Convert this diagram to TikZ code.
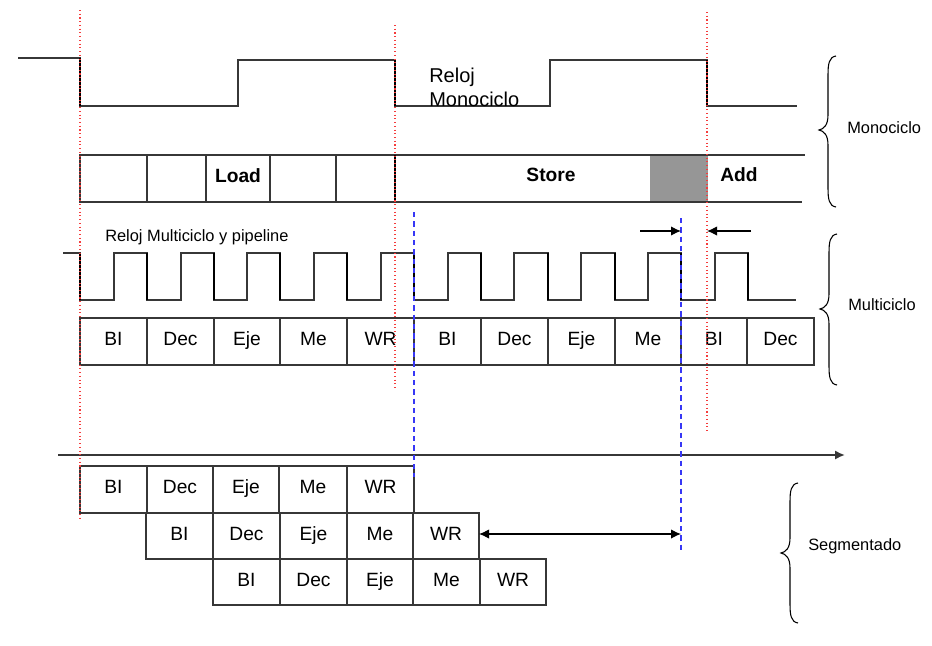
\documentclass[tikz,border=0pt]{standalone}
\usepackage{fontspec}
\setmainfont{Liberation Sans}
\usetikzlibrary{arrows.meta}
\definecolor{linec}{RGB}{55,55,55}
\definecolor{grayfill}{RGB}{150,150,150}
\definecolor{guidered}{RGB}{245,60,60}
\definecolor{guideblue}{RGB}{55,55,245}
\newcommand\cb[6]{\node[cell, minimum width={(#3-#2)*0.75pt}, minimum height={(#5-#4)*0.75pt}] (#1) at ({(#2+#3)/2},{(#4+#5)/2}) {#6};}
\newcommand\mybrace[4]{%
 \draw[brc] (#1,#2) .. controls ({#1-7},{#2+1}) and ({#1-8},{#2+8}) .. ({#1-8},{#2+19}) -- ({#1-8},{#3-15}) .. controls ({#1-8},{#3-5}) and ({#1-12},{#3-1}) .. ({#1-17},#3) .. controls ({#1-12},{#3+1}) and ({#1-8},{#3+5}) .. ({#1-8},{#3+15}) -- ({#1-8},{#4-19}) .. controls ({#1-8},{#4-8}) and ({#1-7},{#4-1}) .. (#1,#4);}
\begin{document}
\begin{tikzpicture}[x=0.75pt,y=-0.75pt,
  cell/.style={draw=linec, line width=0.9pt, inner sep=0pt, outer sep=0pt, font=\fontsize{14.4}{16}\selectfont, text height=10.5pt, text depth=4pt},
  lab/.style={inner sep=0pt, font=\fontsize{14.4}{16}\selectfont},
  side/.style={inner sep=0pt, anchor=west, font=\fontsize{12.3}{14}\selectfont},
  clk/.style={draw=linec, line width=1pt},
  fedge/.style={draw=black, line width=1.5pt},
  bline/.style={draw=linec, line width=1pt},
  brc/.style={draw=black, line width=0.8pt},
  rguide/.style={draw=guidered, line width=0.8pt, dotted},
  bguide/.style={draw=guideblue, line width=1pt, dash pattern=on 4pt off 3pt},
  arr/.style={draw=black, line width=0.8pt, -{Latex[length=7.5pt,width=7pt]}},
  arr2/.style={draw=black, line width=0.8pt, {Latex[length=7.5pt,width=7pt]}-{Latex[length=7.5pt,width=7pt]}},
  axis/.style={draw=linec, line width=1.6pt, -{Latex[length=7.5pt,width=7pt]}}]
\useasboundingbox (0,0) rectangle (932,646);

% ---------- Monocycle clock ----------
\draw[clk] (18,58) -- (80,58) -- (80,106) -- (238,106) -- (238,60) -- (395,60) -- (395,106) -- (550,106) -- (550,60) -- (707,60) -- (707,106) -- (797,106);
\draw[fedge] (80,58) -- (80,106);
\draw[fedge] (395,60) -- (395,106);
\draw[fedge] (707,60) -- (707,106);
\node[lab, anchor=base west, font=\fontsize{15}{18}\selectfont] (rm1) at (429,82) {Reloj};
\node[lab, anchor=base west, font=\fontsize{15}{18}\selectfont] (rm2) at (429,106) {Monociclo};

% ---------- Monocycle instruction row ----------
\fill[grayfill] (650,155) rectangle (708,202);
\cb{m1}{80}{147}{155}{202}{}
\cb{m2}{147}{206}{155}{202}{}
\cb{m3}{206}{270}{155}{202}{\bfseries Load}
\cb{m4}{270}{336}{155}{202}{}
\cb{m5}{336}{395}{155}{202}{}
\coordinate (mt1) at (805,155);
\coordinate (mb1) at (802,202);
\draw[bline] (m5.north east) -- (mt1);
\draw[bline] (m5.south east) -- (mb1);
\draw[fedge] (m5.north east) -- (m5.south east);
\node[lab, font=\fontsize{14.4}{16}\bfseries] (store) at (551,175) {Store};
\node[lab, font=\fontsize{14.4}{16}\bfseries] (add) at (739,175) {Add};

\mybrace{836}{56}{130}{207}
\node[side] (lmono) at (847,128) {Monociclo};

% ---------- Multicycle clock ----------
\node[side] (lmc) at (105,237) {Reloj Multiciclo y pipeline};
\draw[clk] (63,253) -- (80,253) -- (80,300) -- (114,300) -- (114,253) -- (147,253) -- (147,300) -- (181,300) -- (181,253) -- (214,253) -- (214,300) -- (247,300) -- (247,253) -- (280,253) -- (280,300) -- (314,300) -- (314,253) -- (347,253) -- (347,300) -- (381,300) -- (381,253) -- (414,253) -- (414,300) -- (448,300) -- (448,253) -- (481,253) -- (481,300) -- (514,300) -- (514,253) -- (548,253) -- (548,300) -- (581,300) -- (581,253) -- (615,253) -- (615,300) -- (648,300) -- (648,253) -- (681,253) -- (681,300) -- (715,300) -- (715,253) -- (748,253) -- (748,300) -- (796,300);
\foreach \fx in {80,147,214,280,347,414,481,548,615,681,748}
  \draw[draw=black, line width=1.3pt] (\fx,253) -- (\fx,300);

% ---------- Multicycle row ----------
\cb{c1}{80}{147}{318}{365}{BI}
\cb{c2}{147}{214}{318}{365}{Dec}
\cb{c3}{214}{280}{318}{365}{Eje}
\cb{c4}{280}{347}{318}{365}{Me}
\cb{c5}{347}{414}{318}{365}{WR}
\cb{c6}{414}{481}{318}{365}{BI}
\cb{c7}{481}{548}{318}{365}{Dec}
\cb{c8}{548}{615}{318}{365}{Eje}
\cb{c9}{615}{681}{318}{365}{Me}
\cb{c10}{681}{747}{318}{365}{BI}
\cb{c11}{747}{814}{318}{365}{Dec}

\mybrace{837}{234}{309}{385}
\node[side] (lmulti) at (848,305) {Multiciclo};

% ---------- Time axis ----------
\coordinate (t0) at (58,455);
\coordinate (t1) at (845,455);
\draw[axis] (t0) -- (t1);

% ---------- Pipelined ----------
\cb{s11}{80}{147}{466}{513}{BI}
\cb{s12}{147}{213}{466}{513}{Dec}
\cb{s13}{213}{279}{466}{513}{Eje}
\cb{s14}{279}{347}{466}{513}{Me}
\cb{s15}{347}{414}{466}{513}{WR}
\cb{s21}{146}{213}{513}{559}{BI}
\cb{s22}{213}{280}{513}{559}{Dec}
\cb{s23}{280}{347}{513}{559}{Eje}
\cb{s24}{347}{413}{513}{559}{Me}
\cb{s25}{413}{479}{513}{559}{WR}
\cb{s31}{213}{280}{559}{605}{BI}
\cb{s32}{280}{347}{559}{605}{Dec}
\cb{s33}{347}{413}{559}{605}{Eje}
\cb{s34}{413}{480}{559}{605}{Me}
\cb{s35}{480}{546}{559}{605}{WR}

\mybrace{798}{483}{553}{623}
\node[side] (lseg) at (808,546) {Segmentado};

% ---------- Guides ----------
\coordinate (r1a) at (80,10);  \coordinate (r1b) at (80,519);
\coordinate (r2a) at (395,25); \coordinate (r2b) at (395,388);
\coordinate (r3a) at (707,12); \coordinate (r3b) at (707,432);
\coordinate (b1a) at (414,212); \coordinate (b1b) at (414,477);
\coordinate (b2a) at (681,218); \coordinate (b2b) at (681,552);
\draw[rguide] (r1a) -- (r1b);
\draw[rguide] (r2a) -- (r2b);
\draw[rguide] (r3a) -- (r3b);
\draw[bguide] (b1a) -- (b1b);
\draw[bguide] (b2a) -- (b2b);

% ---------- Arrows ----------
\coordinate (a1s) at (640,231);
\coordinate (a2s) at (751,231);
\draw[arr] (a1s) -- (a1s -| b2a);
\draw[arr] (a2s) -- (a2s -| r3a);
\draw[arr2] ([yshift=1.5pt]s25.east) -- ([yshift=1.5pt]s25.east -| b2a);
\end{tikzpicture}
\end{document}
